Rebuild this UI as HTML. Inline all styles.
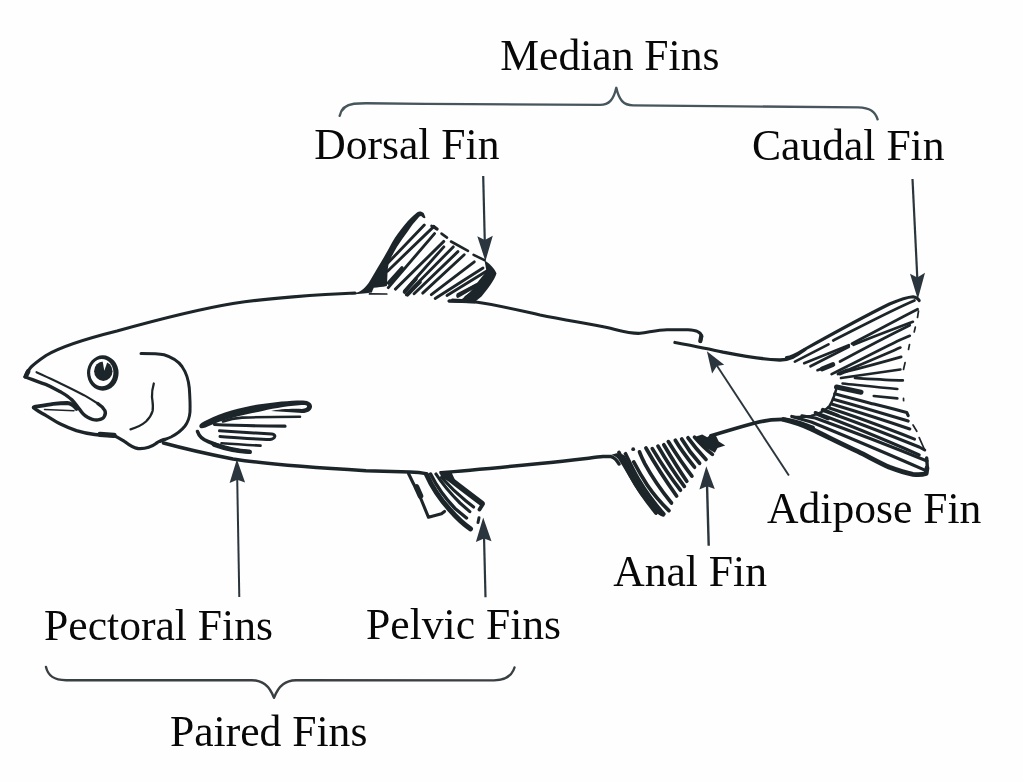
<!DOCTYPE html>
<html>
<head>
<meta charset="utf-8">
<title>Fish Fins</title>
<style>
html,body{margin:0;padding:0;background:#fefefe;}
body{width:1023px;height:782px;overflow:hidden;font-family:"Liberation Serif",serif;}
svg{display:block;position:absolute;left:0;top:0;will-change:transform;}
text{font-family:"Liberation Serif",serif;font-size:43.6px;fill:#080808;}
.ink{stroke:#1e2529;fill:none;stroke-linecap:round;stroke-linejoin:round;}
.fill{fill:#1e2529;stroke:none;}
.arr{stroke:#2c363c;fill:none;stroke-width:2.2;stroke-linecap:butt;}
.arrh{fill:#2c363c;stroke:none;}
.brk{stroke:#3e4e55;fill:none;stroke-width:2.6;stroke-linecap:round;stroke-linejoin:round;}
</style>
</head>
<body>
<svg width="1023" height="782" viewBox="0 0 1023 782">
<defs><filter id="soft" x="-2%" y="-2%" width="104%" height="104%"><feGaussianBlur stdDeviation="0.45"/></filter></defs>
<rect x="0" y="0" width="1023" height="782" fill="#fefefe"/>

<!-- LABELS -->
<g id="labels">
<text x="500.3" y="70.4">Median Fins</text>
<text x="314.2" y="158.7">Dorsal Fin</text>
<text x="752" y="159.6">Caudal Fin</text>
<text x="767" y="523">Adipose Fin</text>
<text x="613.2" y="586.2">Anal Fin</text>
<text x="44.1" y="640.4">Pectoral Fins</text>
<text x="366.1" y="639">Pelvic Fins</text>
<text x="170" y="746.1">Paired Fins</text>
</g>

<!-- BRACKETS -->
<g id="brackets" filter="url(#soft)">
<path class="brk" style="stroke:#46555c;stroke-width:2.4" d="M339.7,115.8 C341,109.5 346,104.8 354,103.8 C358,103.3 362,103.2 366,103.2 L425,103.9 L600,104.9 C609,104.8 613.5,100 616.3,87.8 C619,100 623.5,105.2 633,105.4 L858,107.4 C870,107.9 875,111 877.6,119.3"/>
<path class="brk" style="stroke:#393f43;stroke-width:2.4" d="M46,667 C48,676 54,680 66,680.2 L252,680.3 C262,680.6 269,684.5 274,697.8 C279,684.5 286,680.6 296,680.3 L494,680.4 C506,680 512,676 514.5,667.5"/>
</g>

<!-- ARROWS -->
<g id="arrows" filter="url(#soft)">
<!-- dorsal -->
<path class="arr" d="M483.2,176 L484.8,242"/>
<path class="arrh" d="M477.3,236.3 L484.8,240 L492.8,235.8 L485.4,261.2 Z"/>
<!-- caudal -->
<path class="arr" d="M912.5,179 L917.3,278"/>
<path class="arrh" d="M910,273.8 L917.3,277.6 L925,272.8 L917.8,299.2 Z"/>
<!-- pectoral -->
<path class="arr" style="stroke-width:2" d="M239.3,597 L237.2,478"/>
<path class="arrh" d="M229.6,482.9 L237.2,479.8 L245.1,482.5 L236.9,459.3 Z"/>
<!-- pelvic -->
<path class="arr" d="M485.5,597.3 L484,536"/>
<path class="arrh" d="M475.9,541.9 L484,538.5 L491.5,541.3 L483.2,517.5 Z"/>
<!-- anal -->
<path class="arr" style="stroke-width:2.4" d="M708.7,545.7 L707,484"/>
<path class="arrh" d="M699.4,489.6 L707,486.2 L714.8,489 L706.3,466.3 Z"/>
<!-- adipose -->
<path class="arr" style="stroke-width:1.9" d="M788.9,475.5 L715.5,363.5"/>
<path class="arrh" d="M706.9,351.3 L724.2,364.8 L716.9,365.9 L712.1,373.4 Z"/>
</g>

<!-- FISH -->
<g id="fish" filter="url(#soft)">
<!-- body top line: snout to dorsal -->
<path class="ink" stroke-width="3.2" d="M25,377 C27,370 32,365 46,355.5 C60,347 85,339 117,331 C160,319 200,309 233,303.5 C265,298.5 320,294.3 355,293"/>
<!-- body top: dorsal to adipose -->
<path class="ink" stroke-width="3.1" d="M449,301 L474,301.8 C500,305.5 520,310.5 540,315 C565,320 590,324 607,327.5 C620,330.5 630,333.8 640,333.3 C650,332 658,330 667,329.8 L688,329.8 C696,330 701,332.5 701.7,336.5 L700.3,341.5"/>
<path class="ink" stroke-width="4.2" d="M701.3,336 L700.3,341"/>
<!-- adipose second line to tail -->
<path class="ink" stroke-width="3.3" d="M675,342.5 C690,345.3 708,348.7 723,352.2 C745,356.5 765,359.5 780,360 C790,360 796,356 805,349.5"/>
<!-- body bottom from gill to pelvic -->
<path class="ink" stroke-width="3.5" d="M163.5,443 C180,447.5 200,452.5 233,459 C265,464 300,467 366,470.7 L410,472 C416,472.2 421,472.6 426,473.6"/>
<!-- body bottom pelvic to anal -->
<path class="ink" stroke-width="3.5" d="M441,472.7 C470,470.5 500,467.5 540,463.5 C570,460.5 590,458 603,456.6 L611,456.6 C615,457.5 617,460.5 619,464"/>
<!-- peduncle bottom -->
<path class="ink" stroke-width="3.8" d="M711,435.8 C725,431.5 740,427 753,423.5 C765,420 775,419.2 785,419.4 C795,420.5 803,424 813,427.5"/>

<!-- HEAD -->
<!-- maxilla: lower edge (thick) + rounded end -->
<path class="ink" stroke-width="3.4" d="M25,376.8 C30,379 38,381.5 45.7,384.4 C52,387 57,390 61,392.1 C66,395 69,397 71.8,399.8 C75,403 77,406 79.4,409 C82,413 84,415.5 87.1,416.9 C91,419 95,420.3 97.9,419.9 C101.5,419.5 103.5,418.5 104.2,416.7 C105.6,414.5 105.8,412.5 104.8,410.5 C103,407.5 101,405.5 97.9,403.6"/>
<!-- maxilla: upper line (thin) -->
<path class="ink" stroke-width="2.1" d="M98.5,404 C93,400.5 88,397.5 84,395.2 C75,390.5 68,387 61,383.7 C52,379.5 44,375.5 36.5,372.2"/>
<!-- snout tip blob -->
<path class="ink" stroke-width="4.6" d="M26.3,375.2 L28.2,371.5"/>
<!-- lower jaw top (thick) -->
<path class="ink" stroke-width="3.8" d="M34,407 C42,405.6 48,404.5 53.4,403.8 C59,403.2 63,403 67.2,403 C71,403.3 74,405.5 76.5,409"/>
<path class="ink" stroke-width="1.5" d="M44.5,409.6 L74,410.8"/>
<!-- lower jaw lower edge + throat -->
<path class="ink" stroke-width="3.3" d="M33.4,407.6 C37,410.5 41,412.8 45.7,415.3 C51,418.5 56,421.8 61,424.3 C66,426.8 71,428.8 76.4,430.6 C83,432.6 89,433.8 94.8,434.5 C102,435.3 110,435.5 115,436 C119,438 122,440 125,441.8 C129,445 133,448 138,448.5 C146,449 152,446.5 156,443.5 C158,441.5 161,440.5 164,439.5"/>
<path class="ink" stroke-width="5.2" d="M100,434.3 L114,435.3"/>
<path class="ink" stroke-width="3" d="M141,353.5 C150,353.5 158,353.5 164,354.8 C173,357.5 178,361 182,366.5 C186.5,373 188.5,380 189.3,388 C190,398 190.3,405 190,412 C189.5,418 188,422 185,426 C181,431 176,434.5 171,437 C167,438.8 163,440 160,441.5"/>
<path class="ink" stroke-width="2.3" d="M153.8,383.5 C152.5,388 151.8,392 152,397 C152.5,402 153.5,406 152.6,411 C151.5,415 149,418.5 146,421.5 C142,425 137,427.5 130.5,429.3"/>
<path class="fill" fill-rule="evenodd" d="M87,373 A15.8,17.65 0 1 0 118.6,373 A15.8,17.65 0 1 0 87,373 Z M90.2,372.6 A11.6,13.6 0 1 1 113.4,372.6 A11.6,13.6 0 1 1 90.2,372.6 Z"/>
<ellipse cx="103.3" cy="371.2" rx="9.2" ry="9.7" class="fill"/>
<path d="M102.6,361 L107.6,361.2 L104.3,370.8 Z" fill="#fefefe"/>

<!-- PECTORAL FIN -->
<path class="fill" d="M199.5,427 C198.5,424 202,422.5 207,420 C222,412.5 240,407.5 258,404.5 C275,402 292,400.3 303,400.5 C309.5,400.8 312.3,403.5 312,407 C311.5,411 307,413.2 302,413 C292,412.5 282,411.5 271,411 C278,409.3 290,408.5 302,408.9 C306,408.8 307.5,407.2 307,405.8 C306,404.6 303,404.8 299,405.2 C285,406.2 270,409 258,412 C240,415.5 222,420 210,425.5 C205,428 200.5,429.5 199.5,427 Z"/>
<path class="ink" stroke-width="2.6" d="M223,421.5 C230,419 236,418 242,417.6 C260,417 280,416.8 300,416.8"/>
<path class="ink" stroke-width="3.2" d="M214.5,424.5 C235,425.5 260,426 285,426.2"/>
<path class="ink" stroke-width="3" d="M219.5,430.8 C240,432 258,433.3 272,434 C276.5,434.5 275.5,438.7 270,439.5 C255,439.2 238,437.7 220,436.5"/>
<path class="ink" stroke-width="2.6" d="M221.5,443.3 C235,444.3 248,445 260.5,445.6"/>
<path class="ink" stroke-width="3.6" d="M197.5,431.5 C199,436 202.5,439.5 208,441.5 C213,443.5 218,445.5 224,447.5 C232,450 241,451.3 250,452"/>
<path class="ink" stroke-width="4.6" d="M214,444.5 C226,448.8 238,451.2 249.5,451.8"/>

<!-- DORSAL FIN -->
<path class="fill" d="M350,294.8 C355,293.2 358,292.4 360.5,291 C364,288.8 366.5,286 368.8,282.8 C372.5,276.5 376.5,269.5 380.8,262.4 C385,255.5 388.5,249 392.2,242.2 C396,236 400,230.5 404.7,224.8 C408.5,220 413,215.5 417.3,212.2 C419.3,211 421.8,211.3 423.8,213.3 L425.5,217.6 C424.3,218.8 423,218 421.5,216.3 C420.5,215.8 419.5,216.3 418,218.3 C414.5,222 411,226.5 407.9,231.3 C404,236.5 400.5,241.5 396.9,246.9 C393.5,252.5 391,257.5 389.1,262.6 C388,266.5 387.6,270 387.5,273.5 L386.9,286 C382,287 378,287.3 373.8,287.8 C372.8,289.5 372.3,291 371.9,292.6 C364,293.6 357,294.3 350,294.8 Z"/>
<path class="ink" stroke-width="1.7" d="M369.5,293.9 L386.8,294"/>
<g class="ink" stroke-width="2.9">
<path d="M388.3,262.6 L424.3,225"/>
<path d="M387.5,271.2 L433.7,226.6"/>
<path d="M388.3,287.6 L434.5,233.6"/>
<path d="M395.4,289.1 L443.8,241.4"/>
<path d="M404.7,290.7 L443.8,246.9"/>
<path d="M406.3,294.6 L453.2,246.9"/>
<path d="M414.1,293.8 L457.9,251.6"/>
<path d="M422.7,293.1 L464.2,254.7"/>
<path d="M431.3,294.6 L474.3,261.8"/>
<path d="M435.2,298.5 L483,268"/>
<path d="M447,295.4 L487.6,270.4"/>
<path d="M457.9,294.6 L486,279.8"/>
</g>
<!-- denser dark near the base -->
<g class="ink" stroke-width="3.6">
<path d="M388.5,283 L402,268"/>
<path d="M404.5,292 L416,279"/>
<path d="M407.5,294.8 L420,282"/>
<path d="M458,296 L476,285.5"/>
<path d="M466,297.5 L484,285"/>
</g>
<path class="ink" stroke-width="3.4" d="M433.7,226.6 L437,229"/>
<g class="ink" stroke-width="2.6">
<path d="M431.5,225.8 L436.8,229"/>
<path d="M441.5,233.6 L447,237.6"/>
<path d="M451,241.5 L468,250.8"/>
<path d="M473.6,254.8 L484.5,260.2"/>
</g>
<path class="fill" d="M484.5,260.2 C489,263 494.5,268 496.5,273.5 C494.5,280 488,288.5 481.5,296.5 L475,301.7 L449.5,301 L452,298.5 L462,299 C468,294.5 472,290 476,284.5 C480,279 484,274.5 486.5,271.5 Z"/>
<path class="ink" stroke-width="3.2" d="M449.3,301 L474.7,301.8"/>

<!-- PELVIC FIN -->
<path class="ink" stroke-width="3.1" d="M408.5,473.5 C411,479 414,485 418.5,493 L428.5,517.3 L441.5,513.8 L444.5,511.5"/>
<path class="ink" stroke-width="5.6" d="M416.5,487 L420.5,496"/>
<g class="ink">
<path stroke-width="5" d="M426.5,474.5 C432,487 440,499 450,510 C457,518 464,524.5 470.5,528.8"/>
<path stroke-width="3.4" d="M430.6,474 C437,487 446,499 455,508.5 L466.5,518"/>
<path stroke-width="3.2" d="M436,474 C443,485 452,495 460,503 L469.8,511.6"/>
<path stroke-width="3.2" d="M441.5,477.5 C450,487 458,494.5 466,501 L473.6,507"/>
<path stroke-width="5.6" d="M444,474.5 C455,483 468,493 482,503.5"/>
<path stroke-width="3.8" d="M482.6,504.5 L479.5,509.6"/>
<path stroke-width="3" d="M479,517.8 L478,522.5"/>
</g>
<path class="fill" d="M439.5,471 L451,471.3 L456,482 L446,480 L441,477 Z"/>

<!-- ANAL FIN -->
<path class="fill" d="M611,455 C615,455.5 618,458 620,462 C625,470 630.6,480 637,490 C643,499 650,507 656.5,513 C660,516 663,517.2 664.5,516.5 C664,514 662,512 659,509 C652,502 646,494 640,484 C634,474 629,464 625,456 C621,452.5 617,452.5 611,455 Z"/>
<g class="ink" stroke-width="3.7">
<path d="M619,452.5 C622,459 626,467 630.6,476 C638,490 647,502 656,513"/>
<path d="M625.5,453.8 C629,461 633,470 638.2,478.7 C646,492 655,504 663.8,514"/>
<path d="M633.8,462 C638,470 642,477 647.2,485 C654,495 661,503 668.9,510.6"/>
<path d="M639.5,451.8 C641,456 643,460 644.6,463.3 C652,477 661,490 671.5,503"/>
<path d="M645.9,448 C655,464 666,481 676.6,496"/>
<path d="M652.3,448.6 C661,463 671,478 680.4,490.2"/>
<path d="M658,446.1 C666,460 675,474 684.3,486.4"/>
<path d="M663.8,444.8 C671,457 679,470 686.8,481.2"/>
<path d="M668.3,441.6 C676,454 684,466 691.9,476.1"/>
<path d="M675.3,440.3 C681,450 688,459 694.5,467.2"/>
<path d="M681.7,439 C687,448 693,456 699.6,463.3"/>
<path d="M688,437.8 C694,446 700,453 706,459.5"/>
<path d="M694.5,437.1 C700,443.5 706,449.5 712.4,454.4"/>
</g>
<path class="fill" d="M694.5,437.1 L702.2,434.6 L707.3,437.2 L711.1,434.2 L716.2,436.2 L718.8,441.6 L725.2,445.5 L717.5,448 L714.9,452.8 L707.3,448.5 L699.6,442.5 Z"/>
<circle cx="633.2" cy="449.2" r="1.9" class="fill"/>

<!-- CAUDAL FIN -->
<path class="ink" stroke-width="3.1" d="M786.5,357.5 C792,357 797,354 803.5,350 C825,338 860,318.5 889.5,304 C900,299.5 908,297 913,296.7 C916,297 918,298.5 919.2,300.6"/>
<path class="ink" stroke-width="4.8" d="M783.5,419.5 C790,421 800,424 811.3,429 C830,438 845,445.5 858.2,451.6 C870,457.5 880,463 889.5,467.3 C898,470.5 906,473 913,474.3 C918,474.8 923,474.5 926.2,473.5 L927,468"/>
<g class="ink" stroke-width="2.7">
<path d="M794.9,361.6 L828.5,344.4"/>
<path d="M833.2,340.5 C860,327 890,311 914.5,300.5"/>
<path d="M804.2,363.2 L848.8,345.2"/>
<path d="M851.9,343.6 C875,332 898,319 917.6,309.2"/>
<path d="M810.5,366.3 L848.8,346.8"/>
<path d="M853.5,344.8 C875,336 895,328.5 912.9,321.8"/>
<path d="M817.5,370.2 L831.6,364.8"/>
<path d="M840,361.5 C865,348 890,335 909.8,325.2"/>
<path d="M831.6,374.1 C855,362.5 880,349.5 900.4,339.7 L909.8,335.8"/>
<path d="M837.9,374.1 C860,365 882,355.5 900.4,347.6"/>
<path d="M845.7,371.8 C865,367 885,361.5 901.2,356.9"/>
<path d="M841,378 C862,375 882,372 900.4,369.5"/>
<path d="M855,378 C872,379 888,380 902.8,380.4"/>
<path d="M842.6,383.5 C862,385.5 880,387.5 897.3,389"/>
<path d="M873.8,396 L897.3,398.4"/>
</g>
<path class="ink" stroke-width="4.6" d="M822,369 L833,364.5"/>
<path class="ink" stroke-width="4" d="M840,373.5 L847,370.5"/>
<path class="ink" stroke-width="5" d="M836.5,387 L861,392.3"/>
<g class="ink" stroke-width="3.1">
<path d="M834.7,393.8 C850,398 862,401 873.8,404 C888,407.5 898,410 906.7,412.5 L908.2,415.7"/>
<path d="M833.2,399.2 C860,406.5 885,414 908.2,421.1"/>
<path d="M831.6,404 C860,412.5 885,420.5 909.8,429"/>
<path d="M828.5,407.8 C860,418 890,429.5 914.5,439.1"/>
<path d="M822.2,410.2 C858,422.5 892,436 919.2,447 L924.7,450"/>
<path d="M815.2,412.5 C855,427 890,442 919.2,454.8"/>
<path d="M801.9,415.7 L815.2,418 C855,432.5 895,448 927,461"/>
<path d="M791.7,416.4 L811.3,422 C855,440 895,457 925.4,470.4"/>
</g>
<path class="ink" stroke-width="2.6" d="M836,390 C834,397 832,402 829.5,406 C825,411 818,414 811,416 C805,417.3 798,417.2 792.5,416.8"/>
<path class="ink" stroke-width="3.6" d="M816,413.5 L828,418.5"/>
<path class="ink" stroke-width="3.4" d="M823,409.5 L838,415.5"/>
<path class="ink" stroke-width="3.4" d="M926.7,458 L927.3,467"/>
<g class="ink" stroke-width="1.7">
<path d="M918.5,311 L917.5,317.5"/>
<path d="M915.3,327.2 L914.2,332"/>
<path d="M909.5,344.5 L908.5,349.5"/>
<path d="M905.1,362.5 L903.5,369.5"/>
<path d="M903.5,398.4 L903.6,400.7"/>
<path d="M913,425 L916.8,431.3"/>
<path d="M919.2,437.6 L924.7,450"/>
</g>
</g>
</svg>
</body>
</html>
